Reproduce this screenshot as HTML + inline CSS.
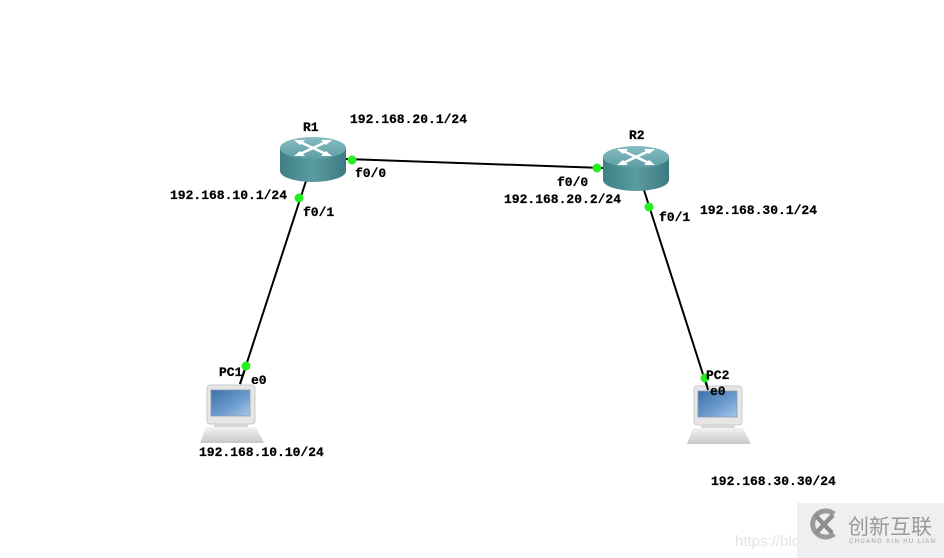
<!DOCTYPE html>
<html><head><meta charset="utf-8">
<style>
html,body{margin:0;padding:0;background:#fff;}
body{width:944px;height:558px;overflow:hidden;position:relative;}
svg{position:absolute;left:0;top:0;}
.t{font-family:"Liberation Mono","Noto Sans CJK SC",monospace;font-weight:bold;font-size:13px;fill:#000;stroke:#000;stroke-width:0.25;}
</style></head><body>
<svg width="944" height="558" viewBox="0 0 944 558" xmlns="http://www.w3.org/2000/svg">
<defs>
<linearGradient id="body" x1="0" y1="0" x2="1" y2="0">
<stop offset="0" stop-color="#3f7f86"/><stop offset="0.5" stop-color="#5a9ca2"/><stop offset="1" stop-color="#3c7a80"/>
</linearGradient>
<linearGradient id="top" x1="0" y1="0" x2="0" y2="1">
<stop offset="0" stop-color="#86bdc2"/><stop offset="1" stop-color="#5d9ea4"/>
</linearGradient>
<linearGradient id="scr" x1="0" y1="0" x2="1" y2="1">
<stop offset="0" stop-color="#3b6fa8"/><stop offset="0.6" stop-color="#6f9ed0"/><stop offset="1" stop-color="#a8c8e8"/>
</linearGradient>
<linearGradient id="base" x1="0" y1="0" x2="0" y2="1">
<stop offset="0" stop-color="#f2f2f2"/><stop offset="1" stop-color="#c8c8c8"/>
</linearGradient>
<g id="router">
<path d="M0,11 L0,34 A33,11 0 0 0 66,34 L66,11 Z" fill="url(#body)"/>
<ellipse cx="33" cy="11" rx="33" ry="11" fill="url(#top)"/>
<g stroke="#fff" stroke-width="2.6" fill="none" stroke-linecap="round">
<line x1="20" y1="5" x2="46" y2="17"/>
<line x1="46" y1="5" x2="20" y2="17"/>
</g>
<g fill="#fff">
<polygon points="14,3 25,3 20,8"/>
<polygon points="52,3 41,3 46,8"/>
<polygon points="14,19 25,19 20,14"/>
<polygon points="52,19 41,19 46,14"/>
</g>
</g>
<g id="pc">
<rect x="7" y="0" width="48" height="39" rx="3" fill="#e6e6e6" stroke="#c9c9c9"/>
<rect x="11" y="5" width="39" height="26" fill="url(#scr)" stroke="#8a9bb0" stroke-width="0.8"/>
<rect x="14" y="39" width="34" height="3" fill="#d8d8d8"/>
<polygon points="6,42 56,42 64,58 0,58" fill="url(#base)"/>
</g>
</defs>

<!-- links -->
<g stroke="#000" stroke-width="2" fill="none">
<line x1="346" y1="159" x2="603" y2="168"/>
<line x1="306" y1="181" x2="240" y2="384"/>
<line x1="643" y1="187" x2="708" y2="390"/>
</g>

<!-- routers -->
<use href="#router" x="280" y="137"/>
<use href="#router" x="603" y="146"/>

<!-- PCs -->
<use href="#pc" x="200" y="385"/>
<use href="#pc" x="687" y="386"/>

<g stroke="#000" stroke-width="2">
<line x1="246" y1="366" x2="240" y2="384"/>
<line x1="705" y1="378" x2="708" y2="390"/>
</g>

<!-- interface dots -->
<g fill="#22ee22">
<circle cx="352" cy="160" r="4.5"/>
<circle cx="597" cy="168" r="4.5"/>
<circle cx="299" cy="198" r="4.5"/>
<circle cx="649" cy="207" r="4.5"/>
<circle cx="246" cy="366" r="4.5"/>
<circle cx="705" cy="378" r="4.5"/>
</g>

<!-- labels -->
<text class="t" x="303" y="131">R1</text>
<text class="t" x="350" y="123">192.168.20.1/24</text>
<text class="t" x="355" y="177">f0/0</text>
<text class="t" x="170" y="199">192.168.10.1/24</text>
<text class="t" x="303" y="216">f0/1</text>
<text class="t" x="629" y="139">R2</text>
<text class="t" x="557" y="186">f0/0</text>
<text class="t" x="504" y="203">192.168.20.2/24</text>
<text class="t" x="659" y="221">f0/1</text>
<text class="t" x="700" y="214">192.168.30.1/24</text>
<text class="t" x="219" y="376">PC1</text>
<text class="t" x="251" y="384">e0</text>
<text class="t" x="706" y="379">PC2</text>
<text class="t" x="710" y="395">e0</text>
<text class="t" x="199" y="456">192.168.10.10/24</text>
<text class="t" x="711" y="485">192.168.30.30/24</text>

<!-- watermark -->
<text x="735" y="546" font-family="Liberation Sans, sans-serif" font-size="15" fill="#e4e4e4">https://blo</text>
<rect x="797" y="503" width="147" height="55" fill="#efefef"/>
<g>
<path d="M834,514 A13,13 0 1 0 834,534" fill="none" stroke="#9a9a9a" stroke-width="5"/>
<path d="M815,515 L832,533 M833,515 L816,533" stroke="#8e8e8e" stroke-width="4.5"/>
</g>
<text x="848" y="534" font-family="Noto Sans CJK SC, sans-serif" font-size="21" fill="#9a9a9a">创新互联</text>
<text x="849" y="543" font-family="Liberation Sans, sans-serif" font-size="6" fill="#a0a0a0" textLength="86">CHUANG XIN HU LIAN</text>
</svg>
</body></html>
